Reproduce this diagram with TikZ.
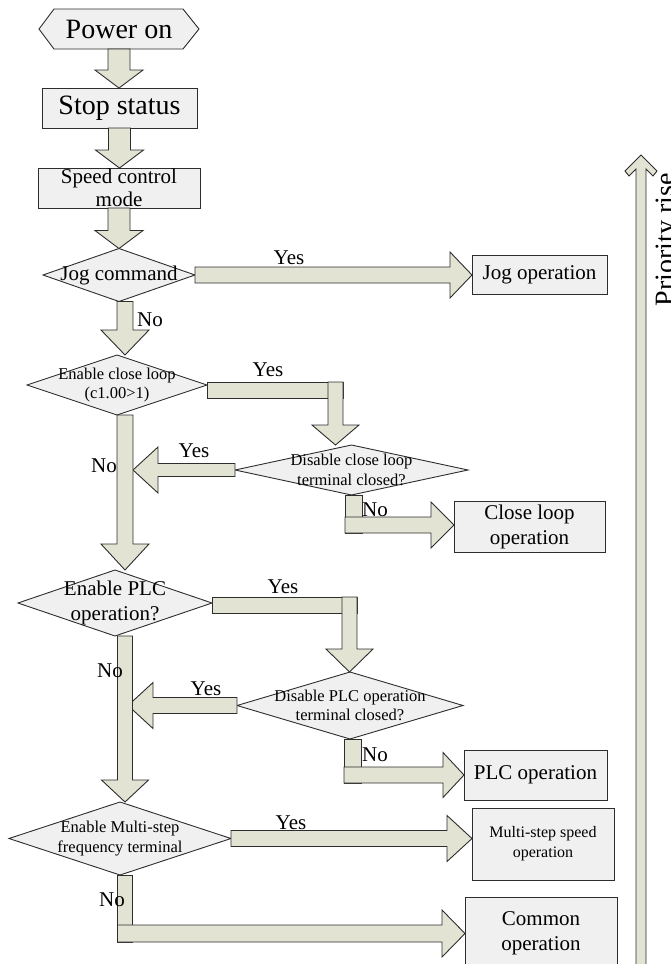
\documentclass[tikz,border=0pt]{standalone}
\usepackage{fontspec}
\setmainfont{Liberation Serif}
\usetikzlibrary{shapes.geometric,calc,backgrounds}
\definecolor{linegray}{RGB}{45,45,45}
\definecolor{arrowfill}{RGB}{227,227,211}
\definecolor{boxfill}{RGB}{240,240,240}

% fat arrows: from, to, shaft half width, head half width, head length
\newcommand{\downblock}[5]{%
  \path[blockarrow] let \p1=(#1), \p2=(#2) in
    (\x1-#3pt,\y1) -- (\x1+#3pt,\y1) -- (\x1+#3pt,\y2+#5pt) -- (\x1+#4pt,\y2+#5pt)
    -- (\x1,\y2) -- (\x1-#4pt,\y2+#5pt) -- (\x1-#3pt,\y2+#5pt) -- cycle;}
\newcommand{\rightblock}[5]{%
  \path[blockarrow] let \p1=(#1), \p2=(#2) in
    (\x1,\y1+#3pt) -- (\x2-#5pt,\y1+#3pt) -- (\x2-#5pt,\y1+#4pt) -- (\x2,\y1)
    -- (\x2-#5pt,\y1-#4pt) -- (\x2-#5pt,\y1-#3pt) -- (\x1,\y1-#3pt) -- cycle;}
\newcommand{\leftblock}[5]{%
  \path[blockarrow] let \p1=(#1), \p2=(#2) in
    (\x1,\y1+#3pt) -- (\x2+#5pt,\y1+#3pt) -- (\x2+#5pt,\y1+#4pt) -- (\x2,\y1)
    -- (\x2+#5pt,\y1-#4pt) -- (\x2+#5pt,\y1-#3pt) -- (\x1,\y1-#3pt) -- cycle;}
% plain bars for the bent connectors
\newcommand{\hbarblock}[3]{%
  \path[blockarrow] let \p1=(#1), \p2=(#2) in (\x1,\y2+#3pt) rectangle (\x2,\y2-#3pt);}
\newcommand{\vbarblock}[3]{%
  \path[blockarrow] let \p1=(#1), \p2=(#2) in (\x1-#3pt,\y1) rectangle (\x1+#3pt,\y2);}

\begin{document}
\begin{tikzpicture}[x=1pt,y=-1pt]
    \tikzstyle{blockarrow}=[fill=arrowfill,draw=linegray,line width=0.9pt,line join=miter]
    \tikzstyle{boxshape}=[fill=boxfill,draw=linegray,line width=0.9pt]
    \tikzstyle{box}=[rectangle,boxshape,inner sep=0pt,outer sep=0pt,align=center]
    \tikzstyle{decision}=[diamond,boxshape,inner sep=0pt,outer sep=0pt]
    \tikzstyle{bigtext}=[font=\fontsize{28}{30}\selectfont]
    \tikzstyle{midtext}=[font=\fontsize{21}{25}\selectfont]
    \tikzstyle{smalltext}=[font=\fontsize{16.5}{19.5}\selectfont]
    \tikzstyle{annot}=[midtext,inner sep=0pt]

    \useasboundingbox (0,0) rectangle (670,964);

    % Draw the start and the first steps
    \node[bigtext,minimum width=160,minimum height=40,inner sep=0pt,outer sep=0pt] (power) at (119,29) {Power on};
    \begin{scope}[on background layer]
        \path[boxshape] ([xshift=15]power.north west) -- ([xshift=-16]power.north east) -- (power.east)
            -- ([xshift=-16]power.south east) -- ([xshift=15]power.south west) -- (power.west) -- cycle;
    \end{scope}
    \node[box,bigtext,minimum width=155,minimum height=40] (stop) at (119.5,108) {Stop status};
    \node[box,font=\fontsize{21}{23}\selectfont,minimum width=162,minimum height=40] (speed) at (119,188) {Speed control\\mode};

    % Draw the decisions
    \node[decision,minimum width=152,minimum height=53,label={[midtext]center:Jog command}] (jog) at (119,275) {};
    \node[decision,minimum width=180,minimum height=60,label={[smalltext,align=center]center:Enable close loop\\(c1.00>1)}] (cloop) at (117,385) {};
    \node[decision,minimum width=233,minimum height=50,label={[smalltext,align=center]center:Disable close loop\\terminal closed?}] (dcloop) at (351.5,470) {};
    \node[decision,minimum width=194,minimum height=66,label={[midtext,align=center]center:Enable PLC\\operation?}] (plc) at (115,603) {};
    \node[decision,minimum width=226,minimum height=67,label={[smalltext,align=center]center:Disable PLC operation\\terminal closed?}] (dplc) at (350,705.5) {};
    \node[decision,minimum width=222,minimum height=73,label={[smalltext,align=center]center:Enable Multi-step\\frequency terminal}] (multi) at (120,838.5) {};

    % Draw the operation boxes
    \node[box,midtext,minimum width=135,minimum height=39] (jogop) at (539.5,274.5) {Jog operation};
    \node[box,midtext,minimum width=151,minimum height=51] (cloopop) at (529.5,526.5) {Close loop\\operation};
    \node[box,midtext,minimum width=143,minimum height=50] (plcop) at (535.5,775) {PLC operation};
    \node[box,font=\fontsize{16}{20}\selectfont,minimum width=142,minimum height=72] (multiop) at (543,844) {Multi-step speed\\operation};
    \node[box,midtext,minimum width=152,minimum height=72] (commonop) at (541,933) {Common\\operation};

    % Connect the steps
    \coordinate (spine) at (125,0);
    \downblock{power.south}{stop.north}{11}{24}{18}
    \downblock{stop.south}{speed.north}{11}{24}{18}
    \downblock{speed.south}{jog.north}{11}{24}{18}
    \rightblock{jog.east}{jogop.west}{8}{23}{22}
    \downblock{spine |- jog.south}{cloop.north}{8}{24}{25}

    % close loop branch
    \coordinate (cl-yes) at (335.5,382);
    \hbarblock{cloop.east}{$(cl-yes)+(7.5,8)$}{8}
    \downblock{cl-yes}{dcloop.north}{7.5}{23.5}{20}
    \leftblock{dcloop.west}{$(spine |- dcloop.west)+(8,0)$}{6.5}{23}{25}
    \coordinate (cl-no) at (353.5,525);
    \vbarblock{cl-no |- dcloop.south}{$(cl-no)+(0,8)$}{8.5}
    \rightblock{$(cl-no)+(-8.5,0)$}{cloopop.west}{8}{23}{23}
    \downblock{spine |- cloop.south}{plc.north}{8}{24}{26}

    % PLC branch
    \coordinate (plc-yes) at (349.5,597);
    \hbarblock{plc.east}{$(plc-yes)+(7.5,8)$}{8}
    \downblock{plc-yes}{dplc.north}{7.5}{23.5}{23}
    \leftblock{dplc.west}{$(spine |- dplc.west)+(3,0)$}{8}{23}{25}
    \coordinate (plc-no) at (352.5,775);
    \vbarblock{plc-no |- dplc.south}{$(plc-no)+(0,8)$}{8.5}
    \rightblock{$(plc-no)+(-8.5,0)$}{plcop.west}{8}{22.5}{21}
    \downblock{spine |- plc.south}{multi.north}{7.5}{23.5}{22}

    % multi-step branch
    \rightblock{multi.east}{multiop.west}{8}{23}{25}
    \coordinate (m-no) at (125,933.5);
    \vbarblock{m-no |- multi.south}{$(m-no)+(0,9)$}{7.5}
    \rightblock{$(m-no)+(-7.5,0)$}{commonop.west}{8.5}{23.5}{23}

    % Annotate the branches
    \foreach \name/\pos/\txt in {yes-jog/{289,258}/Yes, no-jog/{150,320}/No,
        yes-cl/{268,370}/Yes, yes-dcl/{194,451}/Yes, no-dcl/{375,510}/No, no-cl/{104,466}/No,
        yes-plc/{283,587}/Yes, yes-dplc/{206,689}/Yes, no-dplc/{375,755}/No, no-plc/{110,671}/No,
        yes-m/{291,823}/Yes, no-m/{112,900}/No}
        \node[annot] (\name) at (\pos) {\txt};

    % Priority arrow at the right
    \path[blockarrow] (641,155) -- (657,171) -- (653,176) -- (646,169) -- (646,975)
        -- (636,975) -- (636,169) -- (629,176) -- (625,171) -- cycle;
    \node[bigtext,rotate=90,anchor=north,inner sep=0pt] (prio) at (656,240) {Priority rise};
\end{tikzpicture}
\end{document}
